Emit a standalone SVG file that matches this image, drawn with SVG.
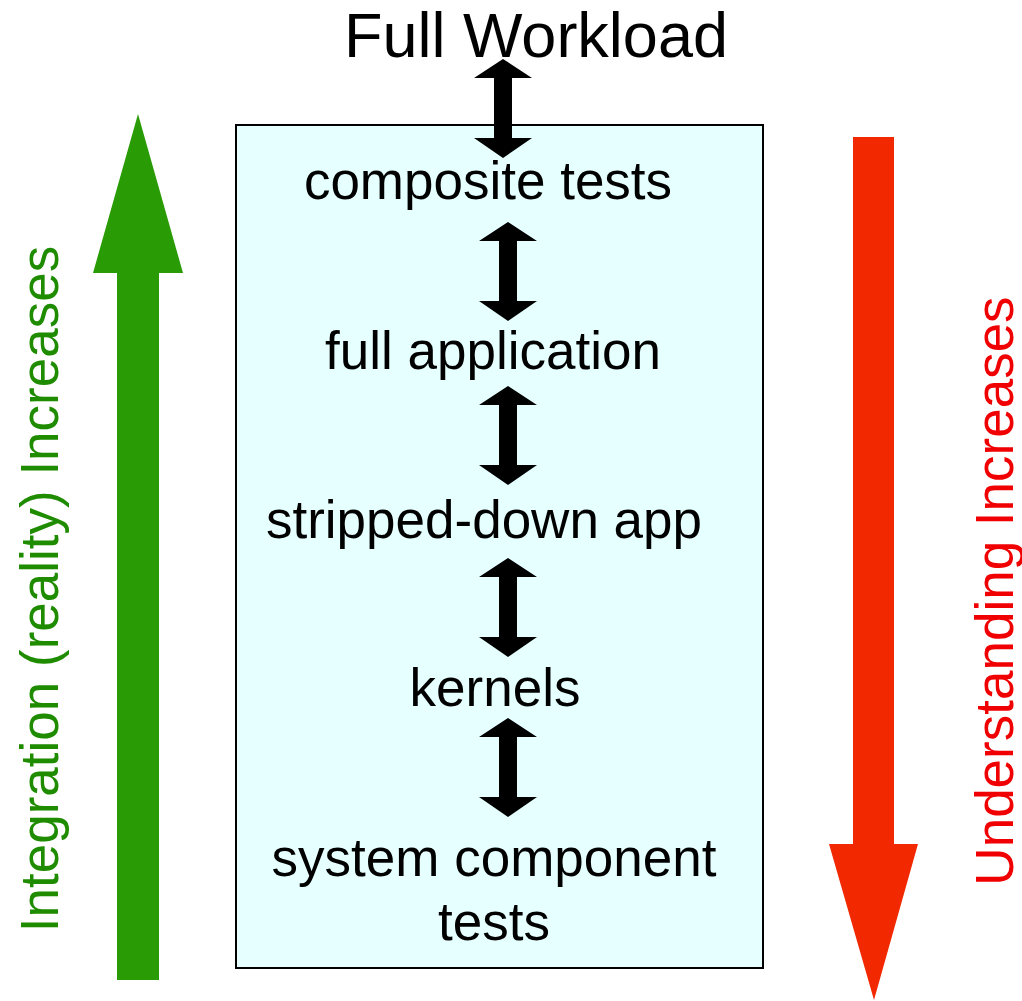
<svg xmlns="http://www.w3.org/2000/svg" width="1022" height="1001" viewBox="0 0 1022 1001">
<style>
.t{font-family:"Liberation Sans",Arial,sans-serif;font-size:53px;fill:#000;text-anchor:middle}
.title{font-size:63px}
.dbl{fill:#000}
</style>
<defs>
<path id="dbl" d="M0,0 L29,19 L9,19 L9,79 L29,79 L0,99 L-29,79 L-9,79 L-9,19 L-29,19 Z"/>
</defs>
<rect width="1022" height="1001" fill="#fff"/>
<g id="box"><rect x="236" y="125" width="527" height="843" fill="#E6FFFF" stroke="#000" stroke-width="2"/></g>
<g id="integration-arrow">
<polygon points="138,114 183,273 159,273 159,980 117,980 117,273 93,273" fill="#299C05"/>
<text class="t" transform="translate(58,589) rotate(-90)" fill="#1F8C00" style="fill:#1F8C00">Integration (reality) Increases</text>
</g>
<g id="understanding-arrow">
<polygon points="853,137 894,137 894,844 918,844 874,1000 829,844 853,844" fill="#F22800"/>
<text class="t" transform="translate(1013,591) rotate(-90)" style="fill:#F00000">Understanding Increases</text>
</g>
<g id="full-workload"><text class="t title" x="536" y="57">Full Workload</text></g>
<g id="composite-tests"><text class="t" x="488" y="199">composite tests</text></g>
<g id="full-application"><text class="t" x="493" y="369">full application</text></g>
<g id="stripped-down-app"><text class="t" x="484" y="538">stripped-down app</text></g>
<g id="kernels"><text class="t" x="495" y="706">kernels</text></g>
<g id="system-component-tests"><text class="t" x="494" y="876">system component</text><text class="t" x="494" y="940">tests</text></g>
<g id="connectors" class="dbl">
<use href="#dbl" transform="translate(503,59)"/>
<use href="#dbl" transform="translate(508,222)"/>
<use href="#dbl" transform="translate(508,386)"/>
<use href="#dbl" transform="translate(508,558)"/>
<use href="#dbl" transform="translate(508,718)"/>
</g>
</svg>
